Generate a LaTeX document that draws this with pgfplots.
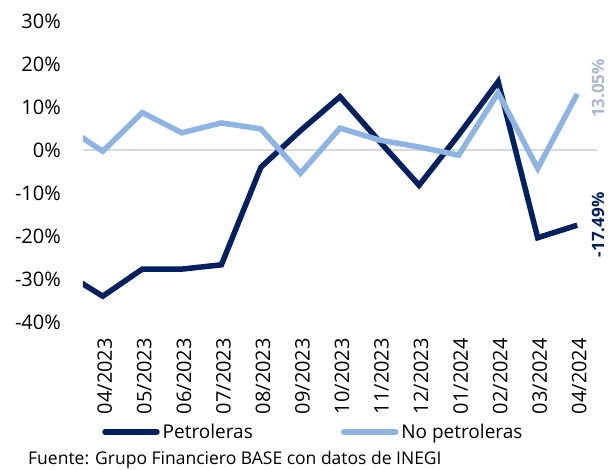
\documentclass[border=0pt]{standalone}
\usepackage{pgfplots}
\pgfplotsset{compat=1.18}
\usepackage{fontspec}
\setmainfont{Open Sans}
\definecolor{darkblue}{HTML}{002060}
\definecolor{lightblue}{HTML}{8DB4E2}
\definecolor{lbllight}{HTML}{A9B8CE}
\definecolor{zeroline}{HTML}{D9D9D9}
\begin{document}
\begin{tikzpicture}
\useasboundingbox (-83pt,-148pt) rectangle (525pt,322pt);
\begin{axis}[
  scale only axis,
  width=514pt, height=301pt,
  at={(0pt,0pt)}, anchor=south west,
  xmin=-0.5, xmax=12.5, ymin=-40, ymax=30,
  clip mode=individual,
  axis line style={draw=none},
  major tick length=0pt,
  xtick={0,...,12},
  xticklabels={04/2023,05/2023,06/2023,07/2023,08/2023,09/2023,10/2023,11/2023,12/2023,01/2024,02/2024,03/2024,04/2024},
  xticklabel style={rotate=90, anchor=east, inner sep=0pt, font=\fontsize{20}{24}\selectfont, xshift=-16pt, yshift=-2pt},
  ytick={-40,-30,...,30},
  yticklabel={\pgfmathprintnumber{\tick}\%},
  yticklabel style={anchor=east, inner sep=0pt, font=\fontsize{20}{24}\selectfont, xshift=-22pt},
  /pgf/number format/assume math mode=true,
  extra y ticks={0},
  extra y tick labels={},
  extra y tick style={grid=major, major grid style={draw=zeroline, line width=1.6pt}},
  legend columns=2,
  legend style={draw=none, at={(19pt,-110pt)}, anchor=west, xshift=20pt, inner sep=0pt, outer sep=0pt,
    font=\fontsize{19}{23}\selectfont,
    /tikz/every even column/.append style={column sep=88pt},
    nodes={inner sep=0pt, outer sep=0pt}},
  legend cell align=left,
  legend image code/.code={\draw[#1, line cap=round] (0pt,0pt) -- (52pt,0pt);},
]
\addplot[color=darkblue, line width=5.5pt, line join=miter] coordinates {
(-1,-28.3) (0,-34.0) (1,-27.7) (2,-27.7) (3,-26.7) (4,-4.0) (5,4.5) (6,12.4)
(7,2.0) (8,-8.2) (9,3.5) (10,15.9) (11,-20.4) (12,-17.49)};
\addlegendentry{\hspace{3pt}Petroleras}
\addplot[color=lightblue, line width=5.5pt, line join=miter] coordinates {
(-1,5.8) (0,-0.3) (1,8.7) (2,4.0) (3,6.3) (4,4.9) (5,-5.4) (6,5.1)
(7,2.3) (8,0.7) (9,-1.2) (10,13.3) (11,-4.3) (12,13.05)};
\addlegendentry{\hspace{3pt}No petroleras}
\node[rotate=90, text=lbllight, font=\fontsize{17}{20}\selectfont\bfseries, inner sep=0pt] at (axis cs:12.5,14.3) [yshift=-1pt] {13.05\%};
\node[rotate=90, text=darkblue, font=\fontsize{17}{20}\selectfont\bfseries, inner sep=0pt] at (axis cs:12.5,-17.4) [yshift=-1pt] {-17.49\%};
\end{axis}
\node[anchor=base west, inner sep=0pt, font=\fontsize{17.5}{21}\selectfont] at (-55pt,-143pt) {Fuente: Grupo Financiero BASE con datos de INEGI};
\end{tikzpicture}
\end{document}
